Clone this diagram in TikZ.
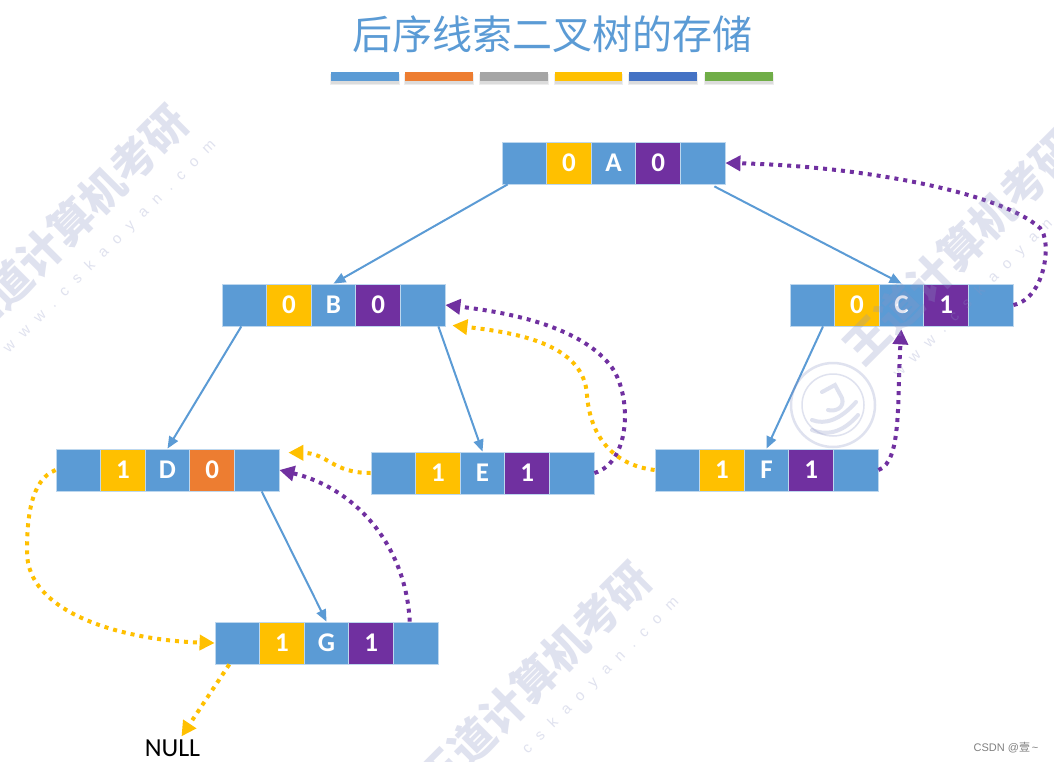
\documentclass[tikz,border=0pt]{standalone}
\usepackage{fontspec}
\setmainfont{Carlito}
\newfontfamily\cjk{Noto Sans CJK SC}[BoldFont={Noto Sans CJK SC Black}]
\newfontfamily\urlfont[LetterSpace=72]{Liberation Sans}
\newfontfamily\csdnfont{Liberation Sans}
\usetikzlibrary{arrows.meta,calc}
\definecolor{cblue}{HTML}{5B9BD5}
\definecolor{corange}{HTML}{ED7D31}
\definecolor{cgray}{HTML}{A5A5A5}
\definecolor{cyellow}{HTML}{FFC000}
\definecolor{cdblue}{HTML}{4472C4}
\definecolor{cgreen}{HTML}{70AD47}
\definecolor{cpurple}{HTML}{7030A0}
\definecolor{cedge}{HTML}{BDD7EE}
\definecolor{cmark}{HTML}{8C94C4}
\tikzset{
  cellbox/.style={minimum width=44.6pt,minimum height=42pt,inner sep=0pt,draw=cedge,line width=0.8pt,text=white,font=\fontsize{27}{27}\selectfont\bfseries},
  treeline/.style={cblue,line width=2pt,-{Triangle[length=12pt,width=10pt]}},
  purpledots/.style={cpurple,line width=4pt,dash pattern=on 4pt off 5pt,-{Triangle[length=15pt,width=15pt]}},
  yellowdots/.style={cyellow,line width=4pt,dash pattern=on 4pt off 5pt,-{Triangle[length=15pt,width=15pt]}},
  barbox/.style={minimum height=9pt,inner sep=0pt},
  barshade/.style={fill=black,opacity=.07},
  markcjk/.style={rotate=45,opacity=.27,text=cmark,inner sep=0pt,font=\cjk\bfseries\fontsize{44}{44}\selectfont},
  markurl/.style={rotate=45,opacity=.27,text=cmark,inner sep=0pt,font=\urlfont\fontsize{15}{15}\selectfont},
  stampline/.style={draw=cmark,opacity=.27,line width=2.5pt,line cap=round},
}
\newcommand{\cellrow}[6]{%
  \node[cellbox,fill=cblue] (#1a) at (#2+22.3,#3+21) {};
  \node[cellbox,fill=cyellow] (#1b) at (#2+66.9,#3+21) {#4};
  \node[cellbox,fill=cblue] (#1c) at (#2+111.5,#3+21) {#5};
  \node[cellbox,fill=#6] (#1d) at (#2+156.1,#3+21) {\thirdval};
  \node[cellbox,fill=cblue] (#1e) at (#2+200.7,#3+21) {};
}
\newcommand{\barmark}[4]{%
  \fill[barshade] (#2-1,74) rectangle (#3+1,85);
  \fill[barshade] (#2,75) rectangle (#3,83.5);
  \node[barbox,fill=#4,minimum width=#3pt-#2pt] (#1) at ({(#2+#3)/2},76.5) {};
}
\newcommand{\wmark}[3]{%
  \begin{scope}[shift={(#2,#3)}]
    \node[markcjk] (wc#1) at (71,222) {王道计算机考研};
    \node[markurl] (wu#1) at (110,247) {www.cskaoyan.com};
  \end{scope}
}
\begin{document}
\begin{tikzpicture}[x=1pt,y=-1pt]
\useasboundingbox (0,0) rectangle (1054,761);
\fill[white] (0,0) rectangle (1054,761);
% title and colour bars
\node[text=cblue,inner sep=0pt,font=\cjk\fontsize{40}{40}\selectfont] (title) at (552,34) {后序线索二叉树的存储};
\barmark{b1}{331}{399}{cblue}
\barmark{b2}{405}{473}{corange}
\barmark{b3}{480}{548}{cgray}
\barmark{b4}{555}{622}{cyellow}
\barmark{b5}{629}{697}{cdblue}
\barmark{b6}{705}{773}{cgreen}
% records
\def\thirdval{0}
\cellrow{A}{502}{142}{0}{A}{cpurple}
\cellrow{B}{222}{284}{0}{B}{cpurple}
\def\thirdval{1}
\cellrow{C}{790}{284}{0}{C}{cpurple}
\def\thirdval{0}
\cellrow{D}{56}{449}{1}{D}{corange}
\def\thirdval{1}
\cellrow{E}{371}{452}{1}{E}{cpurple}
\cellrow{F}{655}{449}{1}{F}{cpurple}
\cellrow{G}{215}{622}{1}{G}{cpurple}
\node[inner sep=0pt,font=\fontsize{26}{26}\selectfont] (null) at (172.5,748) {NULL};
% tree edges
\draw[treeline] ($(Aa.south west)+(6,0)$) -- (Bc.north);
\draw[treeline] ($(Ae.south east)+(-11,2)$) -- (Cc.north);
\draw[treeline] (Ba.south) ++(-3,0) -- (Dc.north);
\draw[treeline] ($(Be.south east)+(-7,0)$) -- (Ec.north);
\draw[treeline] ($(Ca.south east)+(-12,0)$) -- (Fc.north);
\draw[treeline] ($(De.south)+(5,0)$) -- (Gc.north);
% threads
\draw[purpledots] (Ce.east) .. controls (1046,298) and (1052,240) .. (1040,228) .. controls (1000,192) and (860,166) .. (Ae.east);
\draw[purpledots] (Ee.east) .. controls (632,462) and (632,392) .. (610,365) .. controls (578,325) and (505,312) .. (Be.east);
\draw[yellowdots] (Fa.west) .. controls (612,465) and (590,435) .. (587,395) .. controls (584,345) and (520,333) .. ($(Be.south east)+(7,-1)$);
\draw[yellowdots] (Ea.west) .. controls (332,473) and (328,453) .. ($(De.north east)+(9,4)$);
\draw[purpledots] ($(Ge.north)+(-6,0)$) .. controls (406,545) and (355,488) .. (De.east);
\draw[purpledots,shorten >=3pt] (Fe.east) .. controls (902,462) and (897,400) .. (Cc.south);
\draw[yellowdots] (Da.west) .. controls (30,480) and (27,520) .. (27,552) .. controls (27,612) and (120,640) .. (Ga.west);
\draw[yellowdots] ($(Ga.south)+(-8,0)$) -- ($(null.north)+(9,-3)$);
% footer
\node[text=gray,inner sep=0pt,font=\fontsize{11}{11}\selectfont] (csdn) at (1006,748) {{\csdnfont CSDN @}{\cjk 壹}{\csdnfont\,\textasciitilde}};
% watermark
\wmark{1}{0}{0}
\wmark{2}{890}{25}
\wmark{3}{463}{457}
\draw[stampline] (833,405) circle (42);
\draw[stampline,line width=1.5pt] (833,405) circle (31);
\draw[stampline,line width=4pt] (812,420) .. controls (825,425) and (840,420) .. (856,402);
\draw[stampline,line width=4pt] (812,430) .. controls (830,437) and (845,430) .. (858,415);
\draw[stampline,line width=4pt] (822,392) -- (835,385) -- (842,398) .. controls (845,408) and (835,412) .. (828,410);
\end{tikzpicture}
\end{document}
